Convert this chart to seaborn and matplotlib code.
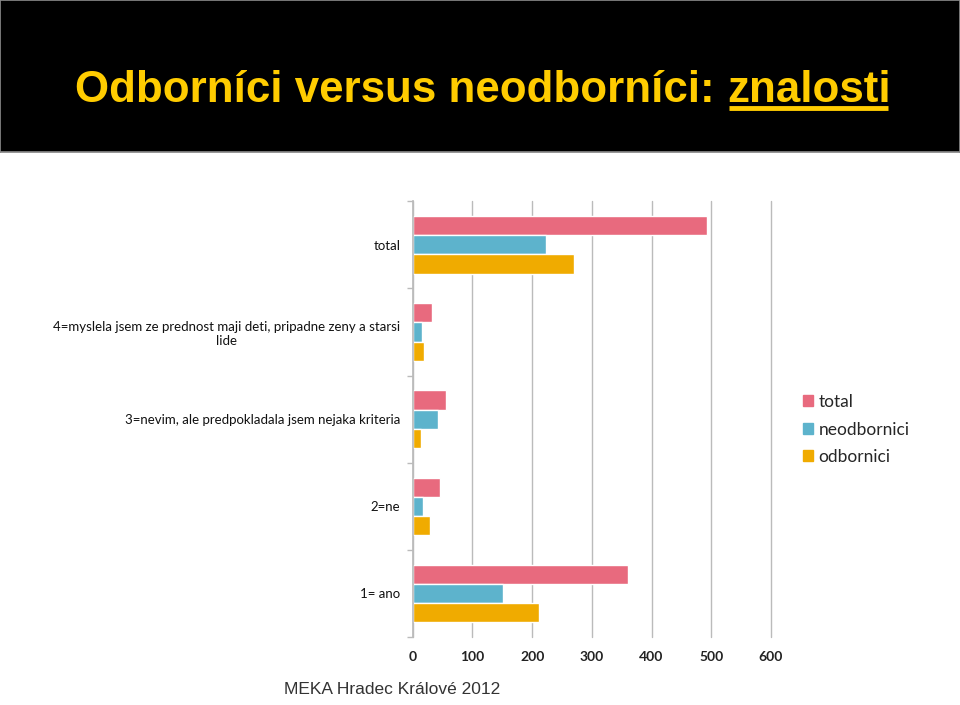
import matplotlib
matplotlib.use("Agg")
import matplotlib.pyplot as plt
import seaborn as sns
import pandas as pd
import numpy as np

categories = ["total",
              "4=myslela jsem ze prednost maji deti, pripadne zeny a starsi\nlide",
              "3=nevim, ale predpokladala jsem nejaka kriteria",
              "2=ne",
              "1= ano"]
series_names = ["total", "neodbornici", "odbornici"]
total_vals = [493, 33, 55, 45, 360]
neodbornici_vals = [223, 15, 42, 17, 151]
odbornici_vals = [270, 18, 13, 28, 211]
x_ticks = [0, 100, 200, 300, 400, 500, 600]
colors = ["#E86A7E", "#5DB3CC", "#F0AB00"]

rows = []
for name, vals in zip(series_names, [total_vals, neodbornici_vals, odbornici_vals]):
    for c, v in zip(categories, vals):
        rows.append({"cat": c, "series": name, "value": v})
df = pd.DataFrame(rows)

sns.set_theme(style="white")
plt.rcParams['font.family'] = ['Lato', 'DejaVu Sans']

fig = plt.figure(figsize=(9.6, 7.05), dpi=100)
fig.patch.set_facecolor("white")

# header
hdr = fig.add_axes([0.0, 0.785, 1.0, 0.215])
hdr.set_xlim(0, 1); hdr.set_ylim(0, 1)
hdr.set_facecolor("black")
for s in hdr.spines.values():
    s.set_color("#888888")
hdr.set_xticks([]); hdr.set_yticks([])

title_font = ["Liberation Sans", "DejaVu Sans"]
r = fig.canvas.get_renderer()
fs = 34
target_w = 815
for _ in range(3):
    ta = hdr.text(0.078, 0.44, "Odborníci versus neodborníci: ", fontsize=fs,
                  fontweight="bold", family=title_font, va="baseline")
    tb = hdr.text(0.5, 0.44, "znalosti", fontsize=fs,
                  fontweight="bold", family=title_font, va="baseline")
    w = ta.get_window_extent(r).width + tb.get_window_extent(r).width
    ta.remove(); tb.remove()
    fs = fs * target_w / w
fs = min(fs, 40)

base_y = 0.33
t1 = hdr.text(0.078, base_y, "Odborníci versus neodborníci: ", color="#FFCC00",
              fontsize=fs, fontweight="bold", family=title_font,
              ha="left", va="baseline")
fig.canvas.draw()
bb = t1.get_window_extent(r)
x1 = hdr.transAxes.inverted().transform((bb.x1, bb.y0))[0]
t2 = hdr.text(x1, base_y, "znalosti", color="#FFCC00",
              fontsize=fs, fontweight="bold", family=title_font,
              ha="left", va="baseline")
fig.canvas.draw()
bb2 = t2.get_window_extent(r)
p0 = hdr.transAxes.inverted().transform((bb2.x0, bb2.y0))
p1 = hdr.transAxes.inverted().transform((bb2.x1, bb2.y0))
hdr.plot([p0[0] + 0.002, p1[0] - 0.002], [base_y - 0.045, base_y - 0.045],
         color="#FFCC00", lw=3.5, solid_capstyle="butt")

ax = fig.add_axes([0.430, 0.0965, 0.373, 0.618])
sns.barplot(data=df, y="cat", x="value", hue="series", hue_order=series_names,
            palette=colors, orient="h", width=0.66, ax=ax, saturation=1,
            legend=True, errorbar=None, order=categories)

ax.set_xlim(0, 600)
ax.set_xticks(x_ticks)
ax.set_xticklabels([str(v) for v in x_ticks], fontsize=10, fontweight="bold", color="#222222")
ax.set_ylim(len(categories) - 0.5, -0.5)
ax.set_xlabel(""); ax.set_ylabel("")
ax.grid(axis="x", color="#BBBBBB", lw=1)
for gl in ax.get_xgridlines():
    gl.set_clip_on(False)
ax.set_axisbelow(True)
for s in ["top", "right", "bottom"]:
    ax.spines[s].set_visible(False)
ax.spines["left"].set_color("#BBBBBB")
ax.tick_params(axis="y", length=0, pad=9, labelsize=9.5, labelcolor="#111111")
ax.tick_params(axis="x", length=0, pad=10)
for lbl in ax.get_yticklabels():
    lbl.set_multialignment("center")
ax.set_yticks(np.arange(-0.5, len(categories) + 0.5, 1), minor=True)
ax.tick_params(axis="y", which="minor", length=4, color="#BBBBBB", left=True)

leg = ax.get_legend()
leg.remove()
handles = [plt.Rectangle((0, 0), 1, 1, color=c) for c in colors]
fig.legend(handles, series_names, loc="upper left", bbox_to_anchor=(0.8365, 0.441),
           frameon=False, fontsize=12.5, handlelength=0.6, handleheight=0.6,
           handletextpad=0.3, labelspacing=0.66, borderpad=0, borderaxespad=0)

fig.text(0.296, 0.012, "MEKA Hradec Králové 2012", family=["Liberation Sans"],
         fontsize=12.5, color="#333333", ha="left", va="bottom")

fig.savefig("out.png", dpi=100)
